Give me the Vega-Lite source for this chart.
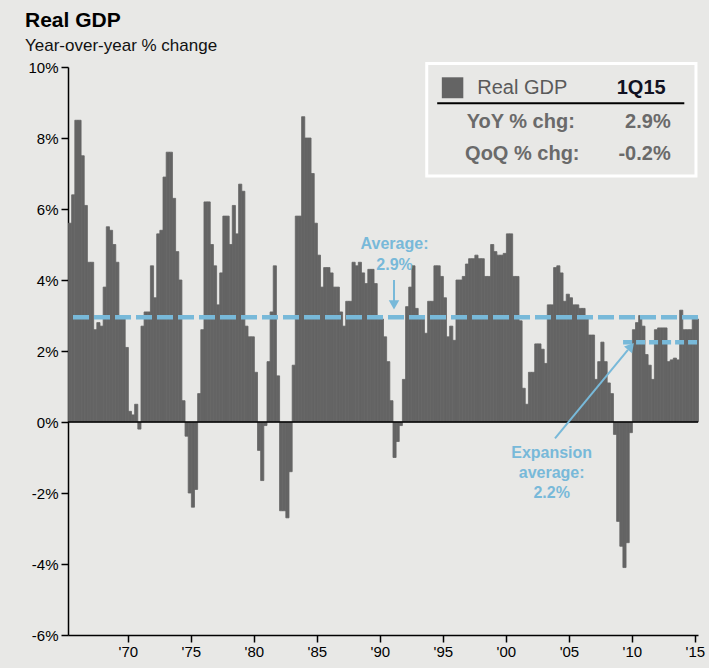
{
  "$schema": "https://vega.github.io/schema/vega-lite/v6.json",
  "autosize": {"type": "none"},
  "width": 630,
  "height": 568,
  "padding": {"left": 68, "top": 67, "right": 11, "bottom": 33},
  "background": "#e8e8e6",
  "config": {
    "view": {"stroke": null},
    "font": "Liberation Sans",
    "text": {"font": "Liberation Sans"}
  },
  "title": {
    "text": "Real GDP",
    "subtitle": "Year-over-year % change",
    "anchor": "start",
    "frame": "group",
    "dx": -43,
    "offset": 6,
    "fontSize": 21,
    "fontWeight": "bold",
    "color": "#000000",
    "font": "Liberation Sans",
    "subtitleFont": "Liberation Sans",
    "subtitleFontSize": 17,
    "subtitleColor": "#111111",
    "subtitlePadding": 7
  },
  "layer": [
    {
      "data": {"values": [
        {"d":"1965-04-01","v":5.6},{"d":"1965-07-01","v":6.4},{"d":"1965-10-01","v":8.5},
        {"d":"1966-01-01","v":8.5},{"d":"1966-04-01","v":7.5},{"d":"1966-07-01","v":6.1},{"d":"1966-10-01","v":4.5},
        {"d":"1967-01-01","v":4.5},{"d":"1967-04-01","v":2.6},{"d":"1967-07-01","v":2.8},{"d":"1967-10-01","v":2.7},
        {"d":"1968-01-01","v":3.8},{"d":"1968-04-01","v":5.5},{"d":"1968-07-01","v":5.4},{"d":"1968-10-01","v":5.0},
        {"d":"1969-01-01","v":4.5},{"d":"1969-04-01","v":3.0},{"d":"1969-07-01","v":3.0},{"d":"1969-10-01","v":2.1},
        {"d":"1970-01-01","v":0.3},{"d":"1970-04-01","v":0.2},{"d":"1970-07-01","v":0.5},{"d":"1970-10-01","v":-0.2},
        {"d":"1971-01-01","v":2.7},{"d":"1971-04-01","v":3.1},{"d":"1971-07-01","v":3.1},{"d":"1971-10-01","v":4.4},
        {"d":"1972-01-01","v":3.5},{"d":"1972-04-01","v":5.3},{"d":"1972-07-01","v":5.4},{"d":"1972-10-01","v":6.9},
        {"d":"1973-01-01","v":7.6},{"d":"1973-04-01","v":7.6},{"d":"1973-07-01","v":6.3},{"d":"1973-10-01","v":4.8},
        {"d":"1974-01-01","v":4.0},{"d":"1974-04-01","v":0.6},{"d":"1974-07-01","v":-0.4},{"d":"1974-10-01","v":-2.0},
        {"d":"1975-01-01","v":-2.4},{"d":"1975-04-01","v":-1.9},{"d":"1975-07-01","v":0.8},{"d":"1975-10-01","v":2.6},
        {"d":"1976-01-01","v":6.2},{"d":"1976-04-01","v":6.2},{"d":"1976-07-01","v":5.0},{"d":"1976-10-01","v":4.4},
        {"d":"1977-01-01","v":3.3},{"d":"1977-04-01","v":4.2},{"d":"1977-07-01","v":5.8},{"d":"1977-10-01","v":5.8},
        {"d":"1978-01-01","v":5.0},{"d":"1978-04-01","v":6.1},{"d":"1978-07-01","v":5.3},{"d":"1978-10-01","v":6.7},
        {"d":"1979-01-01","v":6.5},{"d":"1979-04-01","v":2.7},{"d":"1979-07-01","v":2.4},{"d":"1979-10-01","v":2.4},
        {"d":"1980-01-01","v":1.4},{"d":"1980-04-01","v":-0.8},{"d":"1980-07-01","v":-1.65},{"d":"1980-10-01","v":-0.1},
        {"d":"1981-01-01","v":1.7},{"d":"1981-04-01","v":3.1},{"d":"1981-07-01","v":4.4},{"d":"1981-10-01","v":1.3},
        {"d":"1982-01-01","v":-2.5},{"d":"1982-04-01","v":-2.5},{"d":"1982-07-01","v":-2.7},{"d":"1982-10-01","v":-1.4},
        {"d":"1983-01-01","v":1.6},{"d":"1983-04-01","v":5.8},{"d":"1983-07-01","v":5.8},{"d":"1983-10-01","v":8.6},
        {"d":"1984-01-01","v":8.0},{"d":"1984-04-01","v":8.0},{"d":"1984-07-01","v":7.0},{"d":"1984-10-01","v":5.6},
        {"d":"1985-01-01","v":4.7},{"d":"1985-04-01","v":3.8},{"d":"1985-07-01","v":4.35},{"d":"1985-10-01","v":4.35},
        {"d":"1986-01-01","v":4.2},{"d":"1986-04-01","v":3.8},{"d":"1986-07-01","v":3.8},{"d":"1986-10-01","v":3.1},
        {"d":"1987-01-01","v":2.7},{"d":"1987-04-01","v":3.4},{"d":"1987-07-01","v":3.4},{"d":"1987-10-01","v":4.5},
        {"d":"1988-01-01","v":4.4},{"d":"1988-04-01","v":4.5},{"d":"1988-07-01","v":4.2},{"d":"1988-10-01","v":3.9},
        {"d":"1989-01-01","v":4.3},{"d":"1989-04-01","v":4.3},{"d":"1989-07-01","v":3.9},{"d":"1989-10-01","v":2.9},
        {"d":"1990-01-01","v":2.9},{"d":"1990-04-01","v":2.4},{"d":"1990-07-01","v":1.7},{"d":"1990-10-01","v":0.6},
        {"d":"1991-01-01","v":-1.0},{"d":"1991-04-01","v":-0.55},{"d":"1991-07-01","v":-0.1},{"d":"1991-10-01","v":1.2},
        {"d":"1992-01-01","v":3.25},{"d":"1992-04-01","v":3.8},{"d":"1992-07-01","v":4.4},{"d":"1992-10-01","v":3.2},
        {"d":"1993-01-01","v":2.9},{"d":"1993-04-01","v":2.9},{"d":"1993-07-01","v":2.5},{"d":"1993-10-01","v":3.4},
        {"d":"1994-01-01","v":3.4},{"d":"1994-04-01","v":4.4},{"d":"1994-07-01","v":4.4},{"d":"1994-10-01","v":4.1},
        {"d":"1995-01-01","v":3.5},{"d":"1995-04-01","v":2.4},{"d":"1995-07-01","v":2.7},{"d":"1995-10-01","v":2.3},
        {"d":"1996-01-01","v":4.0},{"d":"1996-04-01","v":4.0},{"d":"1996-07-01","v":4.1},{"d":"1996-10-01","v":4.45},
        {"d":"1997-01-01","v":4.6},{"d":"1997-04-01","v":4.6},{"d":"1997-07-01","v":4.7},{"d":"1997-10-01","v":4.6},
        {"d":"1998-01-01","v":4.6},{"d":"1998-04-01","v":4.1},{"d":"1998-07-01","v":4.1},{"d":"1998-10-01","v":5.0},
        {"d":"1999-01-01","v":4.8},{"d":"1999-04-01","v":4.7},{"d":"1999-07-01","v":4.7},{"d":"1999-10-01","v":4.75},
        {"d":"2000-01-01","v":5.3},{"d":"2000-04-01","v":5.3},{"d":"2000-07-01","v":4.1},{"d":"2000-10-01","v":4.1},
        {"d":"2001-01-01","v":2.85},{"d":"2001-04-01","v":0.95},{"d":"2001-07-01","v":0.5},{"d":"2001-10-01","v":1.4},
        {"d":"2002-01-01","v":1.4},{"d":"2002-04-01","v":2.2},{"d":"2002-07-01","v":2.2},{"d":"2002-10-01","v":2.05},
        {"d":"2003-01-01","v":1.65},{"d":"2003-04-01","v":3.3},{"d":"2003-07-01","v":3.3},{"d":"2003-10-01","v":4.35},
        {"d":"2004-01-01","v":4.4},{"d":"2004-04-01","v":4.2},{"d":"2004-07-01","v":3.4},{"d":"2004-10-01","v":3.6},
        {"d":"2005-01-01","v":3.5},{"d":"2005-04-01","v":3.3},{"d":"2005-07-01","v":3.3},{"d":"2005-10-01","v":3.2},
        {"d":"2006-01-01","v":3.2},{"d":"2006-04-01","v":2.9},{"d":"2006-07-01","v":2.45},{"d":"2006-10-01","v":2.45},
        {"d":"2007-01-01","v":1.2},{"d":"2007-04-01","v":1.7},{"d":"2007-07-01","v":2.25},{"d":"2007-10-01","v":1.7},
        {"d":"2008-01-01","v":1.1},{"d":"2008-04-01","v":0.8},{"d":"2008-07-01","v":-0.35},{"d":"2008-10-01","v":-2.8},
        {"d":"2009-01-01","v":-3.5},{"d":"2009-04-01","v":-4.1},{"d":"2009-07-01","v":-3.4},{"d":"2009-10-01","v":-0.3},
        {"d":"2010-01-01","v":2.6},{"d":"2010-04-01","v":2.8},{"d":"2010-07-01","v":3.0},{"d":"2010-10-01","v":2.7},
        {"d":"2011-01-01","v":1.9},{"d":"2011-04-01","v":1.6},{"d":"2011-07-01","v":1.2},{"d":"2011-10-01","v":2.6},
        {"d":"2012-01-01","v":2.65},{"d":"2012-04-01","v":2.65},{"d":"2012-07-01","v":2.65},{"d":"2012-10-01","v":1.7},
        {"d":"2013-01-01","v":1.75},{"d":"2013-04-01","v":1.8},{"d":"2013-07-01","v":1.75},{"d":"2013-10-01","v":3.15},
        {"d":"2014-01-01","v":2.6},{"d":"2014-04-01","v":2.6},{"d":"2014-07-01","v":2.6},{"d":"2014-10-01","v":3.0},
        {"d":"2015-01-01","v":2.9}
      ]},
      "mark": {"type": "bar", "color": "#646464", "stroke": "#646464", "strokeWidth": 0.8, "binSpacing": 0},
      "encoding": {
        "x": {
          "field": "d", "timeUnit": "utcyearquarter", "type": "temporal",
          "scale": {"type": "utc", "domain": [{"year": 1965, "month": 4, "date": 1, "utc": true}, {"year": 2015, "month": 4, "date": 1, "utc": true}]},
          "axis": {
            "title": null, "grid": false,
            "values": [{"year":1970,"utc":true},{"year":1975,"utc":true},{"year":1980,"utc":true},{"year":1985,"utc":true},{"year":1990,"utc":true},{"year":1995,"utc":true},{"year":2000,"utc":true},{"year":2005,"utc":true},{"year":2010,"utc":true},{"year":2015,"utc":true}],
            "labelExpr": "\"'\" + utcFormat(datum.value, '%y')",
            "domainColor": "#000000", "domainWidth": 1.5,
            "tickColor": "#000000", "tickWidth": 1.5, "tickSize": 7,
            "labelFont": "Liberation Sans", "labelFontSize": 15, "labelColor": "#000000", "labelPadding": 2,
            "labelFlush": false, "labelOverlap": false
          }
        },
        "y": {
          "field": "v", "type": "quantitative",
          "scale": {"domain": [-6, 10], "nice": false, "zero": false},
          "axis": {
            "title": null, "grid": false,
            "values": [-6, -4, -2, 0, 2, 4, 6, 8, 10],
            "labelExpr": "datum.value + '%'",
            "domainColor": "#000000", "domainWidth": 1.5,
            "tickColor": "#000000", "tickWidth": 1.5, "tickSize": 7,
            "labelFont": "Liberation Sans", "labelFontSize": 15, "labelColor": "#000000", "labelPadding": 3,
            "labelFlush": false, "labelOverlap": false
          }
        }
      }
    },
    {
      "data": {"values": [{}]},
      "mark": {"type": "rule", "color": "#000000", "strokeWidth": 1.5},
      "encoding": {"y": {"datum": 0}}
    },
    {
      "data": {"values": [{}]},
      "mark": {"type": "rule", "color": "#78b9d9", "strokeWidth": 4.5, "strokeDash": [16, 5]},
      "encoding": {"y": {"datum": 2.95}}
    },
    {
      "data": {"values": [{}]},
      "mark": {"type": "rule", "color": "#78b9d9", "strokeWidth": 4.5, "strokeDash": [9, 4]},
      "encoding": {
        "x": {"datum": {"year": 2009, "month": 4, "date": 20, "utc": true}, "type": "temporal"},
        "x2": {"datum": {"year": 2015, "month": 3, "date": 20, "utc": true}},
        "y": {"datum": 2.25}
      }
    },
    {
      "data": {"values": [{}]},
      "mark": {"type": "rule", "color": "#78b9d9", "strokeWidth": 2},
      "encoding": {
        "x": {"datum": {"year": 2003, "month": 11, "date": 25, "utc": true}, "type": "temporal"},
        "x2": {"datum": {"year": 2009, "month": 9, "date": 8, "utc": true}},
        "y": {"datum": -0.46},
        "y2": {"datum": 2.03}
      }
    },
    {
      "data": {"values": [{}]},
      "mark": {"type": "point", "shape": "triangle-up", "filled": true, "color": "#78b9d9", "size": 110, "angle": 40, "opacity": 1},
      "encoding": {
        "x": {"datum": {"year": 2009, "month": 12, "date": 5, "utc": true}, "type": "temporal"},
        "y": {"datum": 2.13}
      }
    },
    {
      "data": {"values": [{}]},
      "mark": {"type": "rule", "color": "#78b9d9", "strokeWidth": 2},
      "encoding": {
        "x": {"datum": {"year": 1991, "month": 2, "date": 14, "utc": true}, "type": "temporal"},
        "y": {"datum": 4.0},
        "y2": {"datum": 3.4}
      }
    },
    {
      "data": {"values": [{}]},
      "mark": {"type": "point", "shape": "triangle-down", "filled": true, "color": "#78b9d9", "size": 110, "opacity": 1},
      "encoding": {
        "x": {"datum": {"year": 1991, "month": 2, "date": 14, "utc": true}, "type": "temporal"},
        "y": {"datum": 3.3}
      }
    },
    {
      "data": {"values": [{}]},
      "mark": {"type": "text", "text": "Average:", "color": "#78b9d9", "fontSize": 16, "fontWeight": "bold", "align": "center", "baseline": "middle"},
      "encoding": {
        "x": {"datum": {"year": 1991, "month": 3, "date": 1, "utc": true}, "type": "temporal"},
        "y": {"datum": 5.01}
      }
    },
    {
      "data": {"values": [{}]},
      "mark": {"type": "text", "text": "2.9%", "color": "#78b9d9", "fontSize": 16, "fontWeight": "bold", "align": "center", "baseline": "middle"},
      "encoding": {
        "x": {"datum": {"year": 1991, "month": 3, "date": 1, "utc": true}, "type": "temporal"},
        "y": {"datum": 4.42}
      }
    },
    {
      "data": {"values": [{}]},
      "mark": {"type": "text", "text": "Expansion", "color": "#78b9d9", "fontSize": 16, "fontWeight": "bold", "align": "center", "baseline": "middle"},
      "encoding": {
        "x": {"datum": {"year": 2003, "month": 8, "date": 20, "utc": true}, "type": "temporal"},
        "y": {"datum": -0.88}
      }
    },
    {
      "data": {"values": [{}]},
      "mark": {"type": "text", "text": "average:", "color": "#78b9d9", "fontSize": 16, "fontWeight": "bold", "align": "center", "baseline": "middle"},
      "encoding": {
        "x": {"datum": {"year": 2003, "month": 8, "date": 20, "utc": true}, "type": "temporal"},
        "y": {"datum": -1.43}
      }
    },
    {
      "data": {"values": [{}]},
      "mark": {"type": "text", "text": "2.2%", "color": "#78b9d9", "fontSize": 16, "fontWeight": "bold", "align": "center", "baseline": "middle"},
      "encoding": {
        "x": {"datum": {"year": 2003, "month": 8, "date": 20, "utc": true}, "type": "temporal"},
        "y": {"datum": -1.99}
      }
    },
    {
      "data": {"values": [{}]},
      "mark": {"type": "rect", "fillOpacity": 0, "stroke": "#ffffff", "strokeWidth": 3},
      "encoding": {
        "x": {"datum": {"year": 1993, "month": 9, "date": 20, "utc": true}, "type": "temporal"},
        "x2": {"datum": {"year": 2015, "month": 2, "date": 1, "utc": true}},
        "y": {"datum": 10.1},
        "y2": {"datum": 6.93}
      }
    },
    {
      "data": {"values": [{}]},
      "mark": {"type": "rect", "color": "#646464"},
      "encoding": {
        "x": {"datum": {"year": 1994, "month": 12, "date": 1, "utc": true}, "type": "temporal"},
        "x2": {"datum": {"year": 1996, "month": 8, "date": 15, "utc": true}},
        "y": {"datum": 9.71},
        "y2": {"datum": 9.12}
      }
    },
    {
      "data": {"values": [{}]},
      "mark": {"type": "rule", "color": "#000000", "strokeWidth": 2},
      "encoding": {
        "x": {"datum": {"year": 1994, "month": 7, "date": 20, "utc": true}, "type": "temporal"},
        "x2": {"datum": {"year": 2014, "month": 2, "date": 28, "utc": true}},
        "y": {"datum": 8.98}
      }
    },
    {
      "data": {"values": [{}]},
      "mark": {"type": "text", "text": "Real GDP", "color": "#5a5a5a", "fontSize": 20, "align": "left", "baseline": "middle"},
      "encoding": {
        "x": {"datum": {"year": 1997, "month": 9, "date": 24, "utc": true}, "type": "temporal"},
        "y": {"datum": 9.4}
      }
    },
    {
      "data": {"values": [{}]},
      "mark": {"type": "text", "text": "1Q15", "color": "#111122", "fontSize": 20, "fontWeight": "bold", "align": "left", "baseline": "middle"},
      "encoding": {
        "x": {"datum": {"year": 2008, "month": 10, "date": 18, "utc": true}, "type": "temporal"},
        "y": {"datum": 9.4}
      }
    },
    {
      "data": {"values": [{}]},
      "mark": {"type": "text", "text": "YoY % chg:", "color": "#6a6a6a", "fontSize": 20, "fontWeight": "bold", "align": "left", "baseline": "middle"},
      "encoding": {
        "x": {"datum": {"year": 1996, "month": 11, "date": 20, "utc": true}, "type": "temporal"},
        "y": {"datum": 8.46}
      }
    },
    {
      "data": {"values": [{}]},
      "mark": {"type": "text", "text": "QoQ % chg:", "color": "#6a6a6a", "fontSize": 20, "fontWeight": "bold", "align": "left", "baseline": "middle"},
      "encoding": {
        "x": {"datum": {"year": 1996, "month": 10, "date": 5, "utc": true}, "type": "temporal"},
        "y": {"datum": 7.54}
      }
    },
    {
      "data": {"values": [{}]},
      "mark": {"type": "text", "text": "2.9%", "color": "#6a6a6a", "fontSize": 20, "fontWeight": "bold", "align": "right", "baseline": "middle"},
      "encoding": {
        "x": {"datum": {"year": 2013, "month": 1, "date": 30, "utc": true}, "type": "temporal"},
        "y": {"datum": 8.46}
      }
    },
    {
      "data": {"values": [{}]},
      "mark": {"type": "text", "text": "-0.2%", "color": "#6a6a6a", "fontSize": 20, "fontWeight": "bold", "align": "right", "baseline": "middle"},
      "encoding": {
        "x": {"datum": {"year": 2013, "month": 1, "date": 30, "utc": true}, "type": "temporal"},
        "y": {"datum": 7.54}
      }
    }
  ]
}
